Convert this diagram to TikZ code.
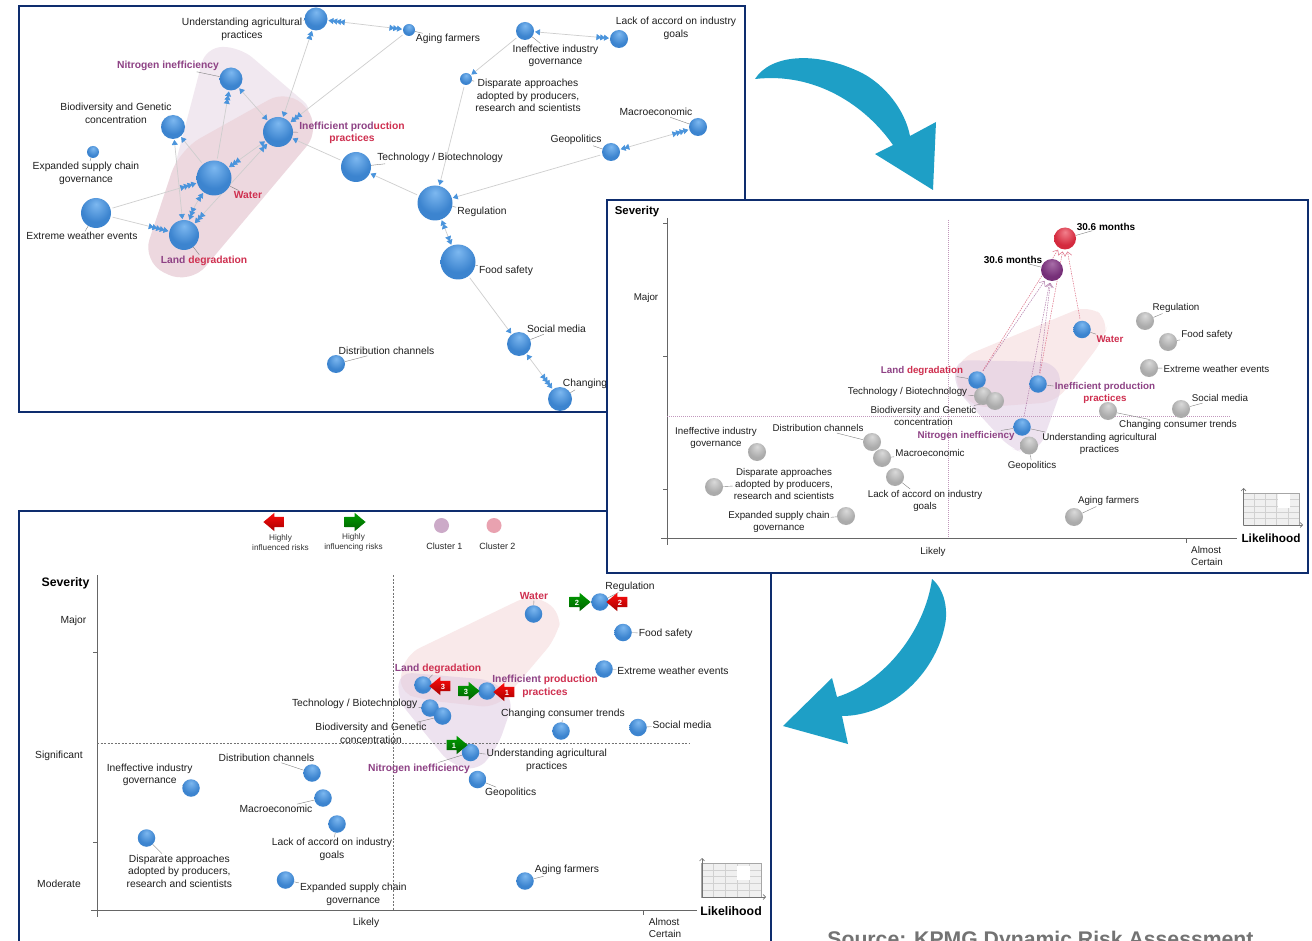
\documentclass[tikz,border=0pt]{standalone}
\usepackage{fontspec}
\setmainfont{Liberation Sans}
\usetikzlibrary{arrows.meta,shapes.arrows}
\pgfdeclarelayer{pa}\pgfdeclarelayer{pb}\pgfdeclarelayer{pc}\pgfdeclarelayer{pd}\pgfdeclarelayer{pe}\pgfdeclarelayer{pf}
\pgfsetlayers{pa,pb,pc,pd,pe,pf,main}
\definecolor{bhi}{HTML}{7DB8F0}\definecolor{bmid}{HTML}{3C84CF}\definecolor{blo}{HTML}{1D5A9C}
\definecolor{ghi}{HTML}{DADADA}\definecolor{gmid}{HTML}{ABABAB}\definecolor{glo}{HTML}{6F6F6F}
\definecolor{rhi}{HTML}{F2808C}\definecolor{rmid}{HTML}{D42A3E}\definecolor{rlo}{HTML}{8E1424}
\definecolor{phi}{HTML}{A86EA8}\definecolor{pmid}{HTML}{762F78}\definecolor{plo}{HTML}{451848}
\definecolor{frame}{HTML}{0E2D6E}\definecolor{teal}{HTML}{1E9FC6}
\definecolor{tipblue}{HTML}{4A94DC}\definecolor{mauvet}{HTML}{8E4285}\definecolor{redt}{HTML}{CF3050}
\definecolor{edgeg}{HTML}{CECECE}\definecolor{leadg}{HTML}{808080}
\definecolor{pinkA}{HTML}{EDD8DF}\definecolor{pinkB}{HTML}{F9E9EA}\definecolor{mauveB}{HTML}{DCC6E0}
\pgfdeclareradialshading{ballblue}{\pgfpoint{0bp}{15bp}}{color(0bp)=(bhi);color(24bp)=(bmid);color(42bp)=(bmid);color(50bp)=(blo);color(62bp)=(blo)}
\pgfdeclareradialshading{ballgrey}{\pgfpoint{0bp}{15bp}}{color(0bp)=(ghi);color(24bp)=(gmid);color(42bp)=(gmid);color(50bp)=(glo);color(62bp)=(glo)}
\pgfdeclareradialshading{ballred}{\pgfpoint{0bp}{15bp}}{color(0bp)=(rhi);color(24bp)=(rmid);color(42bp)=(rmid);color(50bp)=(rlo);color(62bp)=(rlo)}
\pgfdeclareradialshading{ballpurple}{\pgfpoint{0bp}{15bp}}{color(0bp)=(phi);color(24bp)=(pmid);color(42bp)=(pmid);color(50bp)=(plo);color(62bp)=(plo)}
\newcommand{\mv}[1]{\textcolor{mauvet}{#1}}
\tikzset{
 x=1pt,y=-1pt,
 sph/.style={circle,inner sep=0pt,minimum size=#1,shade,shading=ballblue},
 gsph/.style={circle,inner sep=0pt,minimum size=18pt,shade,shading=ballgrey},
 bsph/.style={circle,inner sep=0pt,minimum size=17.5pt,shade,shading=ballblue},
 lb/.style={font=\fontsize{10.3}{12.5}\selectfont,align=center,inner sep=1pt,text=black!88,yshift=-0.8pt},
 lbs/.style={font=\fontsize{9.8}{12}\selectfont,align=center,inner sep=1pt,text=black!88,yshift=-0.8pt},
 hot/.style={font=\fontsize{10.3}{12.5}\selectfont\bfseries,align=center,inner sep=1pt,text=redt,yshift=-0.8pt},
 hots/.style={font=\fontsize{9.8}{12}\selectfont\bfseries,align=center,inner sep=1pt,text=redt,yshift=-0.8pt},
 head/.style={font=\fontsize{12.3}{13}\selectfont\bfseries,inner sep=0pt,text=black,yshift=-0.8pt},
 heads/.style={font=\fontsize{11.4}{12}\selectfont\bfseries,inner sep=0pt,text=black,yshift=-0.8pt},
 lead/.style={draw=leadg,line width=.4pt},
 ed/.style={draw=edgeg,line width=.7pt,shorten >=2pt,shorten <=2pt},
 tipa/.tip={Triangle[length=5pt,width=6pt,color=tipblue,sep=-1.2pt]},
 tipb/.tip={tipa[]tipa},
 tipc/.tip={tipa[]tipa[]tipa},
 tipd/.tip={tipa[]tipa[]tipa[]tipa},
 tipe/.tip={tipa[]tipa[]tipa[]tipa[]tipa},
 frm/.style={draw=frame,line width=1.8pt},
 axs/.style={draw=black!60,line width=.7pt},
 dmv/.style={draw=mauvet!55!white,line width=.5pt,dash pattern=on 1pt off 1pt},
 dgr/.style={draw=black!55,line width=.5pt,dash pattern=on 2pt off 1.5pt},
 dsh/.style={line width=.5pt,dash pattern=on 1.5pt off 1pt,shorten >=2pt,shorten <=2pt,-{Straight Barb[length=4pt,width=7pt]}},
 redar/.style={single arrow,shape border rotate=180,single arrow tip angle=80,single arrow head extend=4pt,minimum height=21pt,minimum width=18pt,inner sep=2pt,text height=6pt,text depth=0pt,text width=6pt,top color=red!95!white,bottom color=red!65!black,font=\fontsize{7.5}{8}\selectfont\bfseries,text=white,align=center},
 grar/.style={single arrow,single arrow tip angle=80,single arrow head extend=4pt,minimum height=21pt,minimum width=18pt,inner sep=2pt,text height=6pt,text depth=0pt,text width=6pt,top color=green!62!black,bottom color=green!38!black,font=\fontsize{7.5}{8}\selectfont\bfseries,text=white,align=center},
 leg/.style={font=\fontsize{8.2}{10}\selectfont,align=center,inner sep=0pt,text=black!80},
 legb/.style={font=\fontsize{9}{10}\selectfont,inner sep=0pt,text=black!85},
 dotl/.style={circle,minimum size=15pt,inner sep=0pt},
 gridl/.style={draw=black!18,line width=.4pt},
}
\begin{document}
\begin{tikzpicture}
\useasboundingbox (0,0) rectangle (1312,941);
% ---------- PANEL 1 ----------
\begin{pgfonlayer}{pa}
 \fill[white] (0,0) rectangle (1312,941);
 \draw[frm] (19,6) rectangle (745,412);
 \fill[fill=mauvet!12!white,rounded corners=16pt] (206,47) -- (240,47) -- (316,112) -- (168,192) -- cycle;
 \fill[fill=pinkA,rounded corners=24pt] (290,88) -- (322,128) -- (190,285) -- (142,262) -- (179,150) -- cycle;
\end{pgfonlayer}
\begin{pgfonlayer}{pb}
 \node[sph=23pt] (au) at (316,19) {};
 \node[sph=12pt] (aa) at (409,30) {};
 \node[sph=23pt] (an) at (231,79) {};
 \node[sph=24pt] (ab) at (173,127) {};
 \node[sph=12pt] (ae) at (93,152) {};
 \node[sph=30pt] (ai) at (278,132) {};
 \node[sph=30pt] (at) at (356,167) {};
 \node[sph=35pt] (aw) at (214,178) {};
 \node[sph=30pt] (ax) at (96,213) {};
 \node[sph=30pt] (al) at (184,235) {};
 \node[sph=35pt] (ar) at (435,203) {};
 \node[sph=35pt] (af) at (458,262) {};
 \node[sph=18pt] (ag) at (525,31) {};
 \node[sph=18pt] (ak) at (619,39) {};
 \node[sph=12pt] (ad) at (466,79) {};
 \node[sph=18pt] (am) at (698,127) {};
 \node[sph=18pt] (ap) at (611,152) {};
 \node[sph=24pt] (as) at (519,344) {};
 \node[sph=24pt] (ac) at (560,399) {};
 \node[sph=18pt] (ah) at (336,364) {};
 \node[lb] (lau) at (242,28.5) {Understanding agricultural\\practices};
 \node[lb] (laa) at (448,38.5) {Aging farmers};
 \node[hot,text=mauvet] (lan) at (168,65) {Nitrogen inefficiency};
 \node[lb] (lab) at (116,112.5) {Biodiversity and Genetic\\concentration};
 \node[lb] (lae) at (86,172.5) {Expanded supply chain\\governance};
 \node[lb] (lax) at (82,235.5) {Extreme weather events};
 \node[hot] (law) at (248,194.5) {Water};
 \node[hot] (lal) at (204,260) {\mv{Land} degradation};
 \node[hot] (lai) at (352,132) {\mv{Inefficient} \mv{prod}uction\\practices};
 \node[lb] (lat) at (440,157) {Technology / Biotechnology};
 \node[lb] (lar) at (482,211.5) {Regulation};
 \node[lb] (laf) at (506,270) {Food safety};
 \node[lb] (las) at (556.5,328.5) {Social media};
 \node[lb] (lac) at (585,383) {Changing};
 \node[lb] (lah) at (386.5,350) {Distribution channels};
 \node[lb] (lad) at (528,95) {Disparate approaches\\adopted by producers,\\research and scientists};
 \node[lb] (lag) at (555.5,55) {Ineffective industry\\governance};
 \node[lb] (lak) at (676,27.5) {Lack of accord on industry\\goals};
 \node[lb] (lam) at (656,111.5) {Macroeconomic};
 \node[lb] (lap) at (576,139) {Geopolitics};
\end{pgfonlayer}
\begin{pgfonlayer}{pa}
 \foreach \p/\q in {au/lau,aa/laa,an/lan,ab/lab,ae/lae,ax/lax,aw/law,al/lal,ai/lai,at/lat,ar/lar,af/laf,as/las,ac/lac,ah/lah,ad/lad,ag/lag,ak/lak,am/lam,ap/lap}
  \draw[lead] (\p) -- (\q);
 \draw[ed,{tipd}-{tipc}] (au) -- (aa);
 \draw[ed,{tipa}-{tipb}] (ai) -- (au);
 \draw[ed,-{tipc}] (aa) -- (ai);
 \draw[ed,{tipa}-{tipa}] (an) -- (ai);
 \draw[ed,-{tipc}] (aw) -- (an);
 \draw[ed,-{tipa}] (aw) -- (ab);
 \draw[ed,{tipa}-{tipa}] (al) -- (ab);
 \draw[ed,{tipc}-{tipa}] (aw) -- (ai);
 \draw[ed,{tipc}-{tipb}] (al) -- (ai);
 \draw[ed,{tipc}-{tipb}] (al) to[bend left=8] (aw);
 \draw[ed,-{tipd}] (ax) -- (aw);
 \draw[ed,-{tipe}] (ax) -- (al);
 \draw[ed,-{tipa}] (at) -- (ai);
 \draw[ed,-{tipa}] (ar) -- (at);
 \draw[ed,-{tipa}] (ag) -- (ad);
 \draw[ed,{tipa}-{tipc}] (ag) -- (ak);
 \draw[ed,-{tipa}] (ad) -- (ar);
 \draw[ed,-{tipa}] (ap) -- (ar);
 \draw[ed,{tipd}-{tipb}] (am) -- (ap);
 \draw[ed,{tipb}-{tipb}] (ar) -- (af);
 \draw[ed,-{tipa}] (af) -- (as);
 \draw[ed,{tipa}-{tipd}] (as) -- (ac);
\end{pgfonlayer}
% ---------- PANEL 3 ----------
\begin{pgfonlayer}{pc}
 \draw[frm] (19,945) -- (19,511) -- (771,511) -- (771,945);
 \fill[fill=pinkB,rounded corners=16pt] (405,655) -- (532,594) -- (562,612) -- (557,637) -- (497,708) -- (425,700) -- (398,692) -- cycle;
 \fill[fill=mauveB,fill opacity=.5,rounded corners=13pt] (399,672) -- (492,680) -- (514,700) -- (498,746) -- (478,771) -- (450,764) -- (398,700) -- cycle;
 \draw[axs] (97.5,575) -- (97.5,917);
 \draw[axs] (91,910) -- (697,910);
 \coordinate (ct1) at (97.5,652); \coordinate (ct2) at (97.5,842); \coordinate (ct3) at (643,910);
 \draw[axs] (ct1) -- ++(-5,0);
 \draw[axs] (ct2) -- ++(-5,0);
 \draw[axs] (ct3) -- ++(0,5);
 \draw[dgr] (393,575) -- (393,910);
 \draw[dgr] (97,743) -- (690,743);
 % inset
 \fill[black!6] (701,863) rectangle (761,897);
 \foreach \k in {1,...,4} {\draw[gridl] (701+12*\k,863) -- (701+12*\k,897);}
 \foreach \k in {1,...,4} {\draw[gridl] (701,863+6.8*\k) -- (761,863+6.8*\k);}
 \fill[white] (737,866) rectangle (750,880);
 \draw[black!35,line width=.5pt] (701,863) rectangle (761,897);
 \draw[black!55,line width=.6pt,-{Straight Barb[length=2.5pt,width=5pt]}] (702,897) -- (702,858);
 \draw[black!55,line width=.6pt,-{Straight Barb[length=2.5pt,width=5pt]}] (702,897) -- (766,897);
\end{pgfonlayer}
\begin{pgfonlayer}{pd}
 \node[redar] (cl1) at (277,522) {};
 \node[grar] (cl2) at (352,522) {};
 \node[dotl,fill=mauvet!45!white] (cl3) at (441.5,525.5) {};
 \node[dotl,fill=redt!45!white] (cl4) at (494,525.5) {};
 \node[leg] (cl5) at (280.5,542.5) {Highly\\influenced risks};
 \node[leg] (cl6) at (353.5,542.5) {Highly\\influencing risks};
 \node[legb] (cl7) at (444.5,546.5) {Cluster 1};
 \node[legb] (cl8) at (497.5,546.5) {Cluster 2};
 \node[bsph] (cw) at (533.5,614) {};
 \node[bsph] (cr) at (600,602) {};
 \node[bsph] (cf) at (623,632.5) {};
 \node[bsph] (cx) at (604,669) {};
 \node[bsph] (cl) at (423,685) {};
 \node[bsph] (ci) at (487,691) {};
 \node[bsph] (ct) at (430,708) {};
 \node[bsph] (cb) at (442.5,716) {};
 \node[bsph] (cu) at (470.5,752.5) {};
 \node[bsph] (cp) at (477.5,779.5) {};
 \node[bsph] (cc) at (561,731) {};
 \node[bsph] (cs) at (638,727.5) {};
 \node[bsph] (ch) at (312,773) {};
 \node[bsph] (cm) at (323,798) {};
 \node[bsph] (ck) at (337,824) {};
 \node[bsph] (cg) at (191,788) {};
 \node[bsph] (cd) at (146.5,838) {};
 \node[bsph] (ce) at (285.5,880) {};
 \node[bsph] (ca) at (525,881) {};
 \node[redar] (car3) at (443,686) {3};
 \node[grar] (cag3) at (466,691) {3};
 \node[redar] (car1) at (507,692) {1};
 \node[grar] (cag2) at (577,602) {2};
 \node[redar] (car2) at (620,602) {2};
 \node[grar] (cag1) at (454,745) {1};
 \node[head] (chs) at (65.5,583) {Severity};
 \node[lb] (cy1) at (73.5,620.5) {Major};
 \node[lb] (cy2) at (59,755.5) {Significant};
 \node[lb] (cy3) at (59,883) {Moderate};
 \node[lb] (cx1) at (366,922) {Likely};
 \node[lb,align=left,font=\fontsize{10}{12}\selectfont] (cx2) at (665,927) {Almost\\Certain};
 \node[head] (chl) at (731,910) {Likelihood};
 \node[hot] (lcw) at (534,595) {Water};
 \node[lb] (lcr) at (630,585.7) {Regulation};
 \node[lb] (lcf) at (665.7,632.7) {Food safety};
 \node[lb] (lcx) at (673,669.7) {Extreme weather events};
 \node[hot] (lcl) at (438,668) {\mv{Land} degradation};
 \node[hot] (lci) at (545,685.3) {\mv{Inefficient} production\\practices};
 \node[lb] (lct) at (354.7,702.7) {Technology / Biotechnology};
 \node[lb] (lcb) at (371,732.7) {Biodiversity and Genetic\\concentration};
 \node[lb] (lcc) at (563,713) {Changing consumer trends};
 \node[lb] (lcs) at (682,724) {Social media};
 \node[lb] (lcu) at (546.7,759.7) {Understanding agricultural\\practices};
 \node[hot,text=mauvet] (lcn) at (419,767.7) {Nitrogen inefficiency};
 \node[lb] (lcp) at (510.7,792.3) {Geopolitics};
 \node[lb] (lch) at (266.5,757) {Distribution channels};
 \node[lb] (lcg) at (149.7,774) {Ineffective industry\\governance};
 \node[lb] (lcm) at (276,808.3) {Macroeconomic};
 \node[lb] (lck) at (332,848.7) {Lack of accord on industry\\goals};
 \node[lb] (lcd) at (179.3,870.3) {Disparate approaches\\adopted by producers,\\research and scientists};
 \node[lb] (lce) at (353.3,893.7) {Expanded supply chain\\governance};
 \node[lb] (lca) at (567,869.5) {Aging farmers};
\end{pgfonlayer}
\begin{pgfonlayer}{pc}
 \foreach \p/\q in {cw/lcw,cr/lcr,cf/lcf,cx/lcx,cl/lcl,ci/lci,ct/lct,cb/lcb,cc/lcc,cs/lcs,cu/lcu,cu/lcn,cp/lcp,ch/lch,cg/lcg,cm/lcm,ck/lck,cd/lcd,ce/lce,ca/lca}
  \draw[lead] (\p) -- (\q);
\end{pgfonlayer}
% ---------- PANEL 2 ----------
\begin{pgfonlayer}{pe}
 \fill[white] (607,200) rectangle (1308,573);
 \draw[frm] (607,200) rectangle (1308,573);
 \fill[fill=pinkB,rounded corners=15pt] (960,358) -- (1088,305) -- (1109,320) -- (1103,340) -- (1056,402) -- (973,408) -- (953,380) -- cycle;
 \fill[fill=mauveB,fill opacity=.5,rounded corners=13pt] (955,360) -- (1054,362) -- (1063,385) -- (1040,449) -- (1024,453) -- (1010,448) -- (955,388) -- cycle;
 \draw[axs] (667.5,218) -- (667.5,545);
 \draw[axs] (661,538) -- (1237,538);
 \coordinate (bt1) at (667.5,223); \coordinate (bt2) at (667.5,356.5); \coordinate (bt3) at (667.5,489); \coordinate (bt4) at (1186,538);
 \draw[axs] (bt1) -- ++(-5,0);
 \draw[axs] (bt2) -- ++(-5,0);
 \draw[axs] (bt3) -- ++(-5,0);
 \draw[axs] (bt4) -- ++(0,5);
 \draw[dmv] (948,220) -- (948,538);
 \draw[dmv] (667,416.5) -- (1230,416.5);
 \fill[black!6] (1243,493) rectangle (1299,525);
 \foreach \k in {1,...,4} {\draw[gridl] (1243+11.2*\k,493) -- (1243+11.2*\k,525);}
 \foreach \k in {1,...,4} {\draw[gridl] (1243,493+6.4*\k) -- (1299,493+6.4*\k);}
 \fill[white] (1278,494) rectangle (1290,508);
 \draw[black!35,line width=.5pt] (1243,493) rectangle (1299,525);
 \draw[black!55,line width=.6pt,-{Straight Barb[length=2.5pt,width=5pt]}] (1243.5,525) -- (1243.5,488);
 \draw[black!55,line width=.6pt,-{Straight Barb[length=2.5pt,width=5pt]}] (1243.5,525) -- (1303,525);
\end{pgfonlayer}
\begin{pgfonlayer}{pf}
 \node[sph=22pt,shading=ballred] (bz) at (1065,238.5) {};
 \node[sph=22pt,shading=ballpurple] (bv) at (1052,270) {};
 \node[bsph] (bw) at (1082,329.5) {};
 \node[bsph] (bl) at (977,380) {};
 \node[bsph] (bi) at (1038,384) {};
 \node[gsph] (bt) at (983,396) {};
 \node[gsph] (bb) at (995,401) {};
 \node[gsph] (bp) at (1029,445.5) {};
 \node[bsph] (bu) at (1022,427) {};
 \node[gsph] (bc) at (1108,411) {};
 \node[gsph] (br) at (1145,321) {};
 \node[gsph] (bf) at (1168,342) {};
 \node[gsph] (bx) at (1149,368) {};
 \node[gsph] (bs) at (1181,409) {};
 \node[gsph] (bh) at (872,442) {};
 \node[gsph] (bm) at (882,458) {};
 \node[gsph] (bk) at (895,477) {};
 \node[gsph] (bg) at (757,452) {};
 \node[gsph] (bd) at (714,487) {};
 \node[gsph] (be) at (846,516) {};
 \node[gsph] (ba) at (1074,517) {};
 \node[heads] (bhs) at (637,211) {Severity};
 \node[lbs] (by1) at (646,297) {Major};
 \node[lbs] (bx1) at (933,551) {Likely};
 \node[lbs,align=left] (bx2) at (1207,555) {Almost\\Certain};
 \node[heads,font=\fontsize{11.8}{13}\selectfont\bfseries] (bhl) at (1271,537.5) {Likelihood};
 \node[heads,font=\fontsize{10}{12}\selectfont\bfseries] (lbz) at (1106,226) {30.6 months};
 \node[heads,font=\fontsize{10}{12}\selectfont\bfseries] (lbv) at (1013,259) {30.6 months};
 \node[lbs] (lbr) at (1176,307) {Regulation};
 \node[lbs] (lbf) at (1207,334.5) {Food safety};
 \node[lbs] (lbx) at (1216.5,368) {Extreme weather events};
 \node[lbs] (lbs) at (1220,397.5) {Social media};
 \node[lbs] (lbc) at (1178,424.5) {Changing consumer trends};
 \node[lbs] (lbu) at (1099.5,443) {Understanding agricultural\\practices};
 \node[lbs] (lbp) at (1032,465) {Geopolitics};
 \node[hots] (lbw) at (1110,338) {Water};
 \node[hots] (lbi) at (1105,392) {\mv{Inefficient production}\\practices};
 \node[hots] (lbl) at (922,370) {\mv{Land} degradation};
 \node[lbs] (lbt) at (907.5,391) {Technology / Biotechnology};
 \node[lbs] (lbb) at (923.5,415.5) {Biodiversity and Genetic\\concentration};
 \node[hots,text=mauvet] (lbn) at (966,435.5) {Nitrogen inefficiency};
 \node[lbs] (lbh) at (818,427.5) {Distribution channels};
 \node[lbs] (lbm) at (930,452.5) {Macroeconomic};
 \node[lbs] (lbk) at (925,500) {Lack of accord on industry\\goals};
 \node[lbs] (lbg) at (716,437.5) {Ineffective industry\\governance};
 \node[lbs] (lbd) at (784,482.7) {Disparate approaches\\adopted by producers,\\research and scientists};
 \node[lbs] (lbe) at (779,521) {Expanded supply chain\\governance};
 \node[lbs] (lba) at (1108.5,500) {Aging farmers};
\end{pgfonlayer}
\begin{pgfonlayer}{pe}
 \foreach \p/\q in {bz/lbz,bv/lbv,br/lbr,bf/lbf,bx/lbx,bs/lbs,bc/lbc,bu/lbu,bp/lbp,bw/lbw,bi/lbi,bl/lbl,bt/lbt,bb/lbb,bu/lbn,bh/lbh,bm/lbm,bk/lbk,bg/lbg,bd/lbd,be/lbe,ba/lba}
  \draw[lead] (\p) -- (\q);
 \draw[dsh,mauvet!70] (bl) -- (bv);
 \draw[dsh,redt!70] (bl) -- (bz);
 \draw[dsh,mauvet!70] (bi) -- (bv);
 \draw[dsh,redt!70] (bi) -- (bz);
 \draw[dsh,mauvet!70] (bu) -- (bv);
 \draw[dsh,redt!70] (bw) -- (bz);
\end{pgfonlayer}
% ---------- big arrows and source ----------
\fill[teal] (755,79) .. controls (770,55) and (815,50) .. (862,73) .. controls (885,85) and (905,110) .. (910,136) -- (936,122) -- (933,190) -- (875,154) -- (893,145) .. controls (865,105) and (815,72) .. (755,79) -- cycle;
\fill[teal] (932,579) .. controls (945,590) and (948,610) .. (945,625) .. controls (935,675) and (890,716) .. (842,716) -- (848,744) -- (783,726) -- (832,678) -- (837,697) .. controls (885,682) and (925,630) .. (932,579) -- cycle;
\node[font=\fontsize{21.2}{23}\selectfont\bfseries,text=black!55,inner sep=0pt,anchor=base] (src) at (1040.5,946) {Source: KPMG Dynamic Risk Assessment};
\end{tikzpicture}
\end{document}
